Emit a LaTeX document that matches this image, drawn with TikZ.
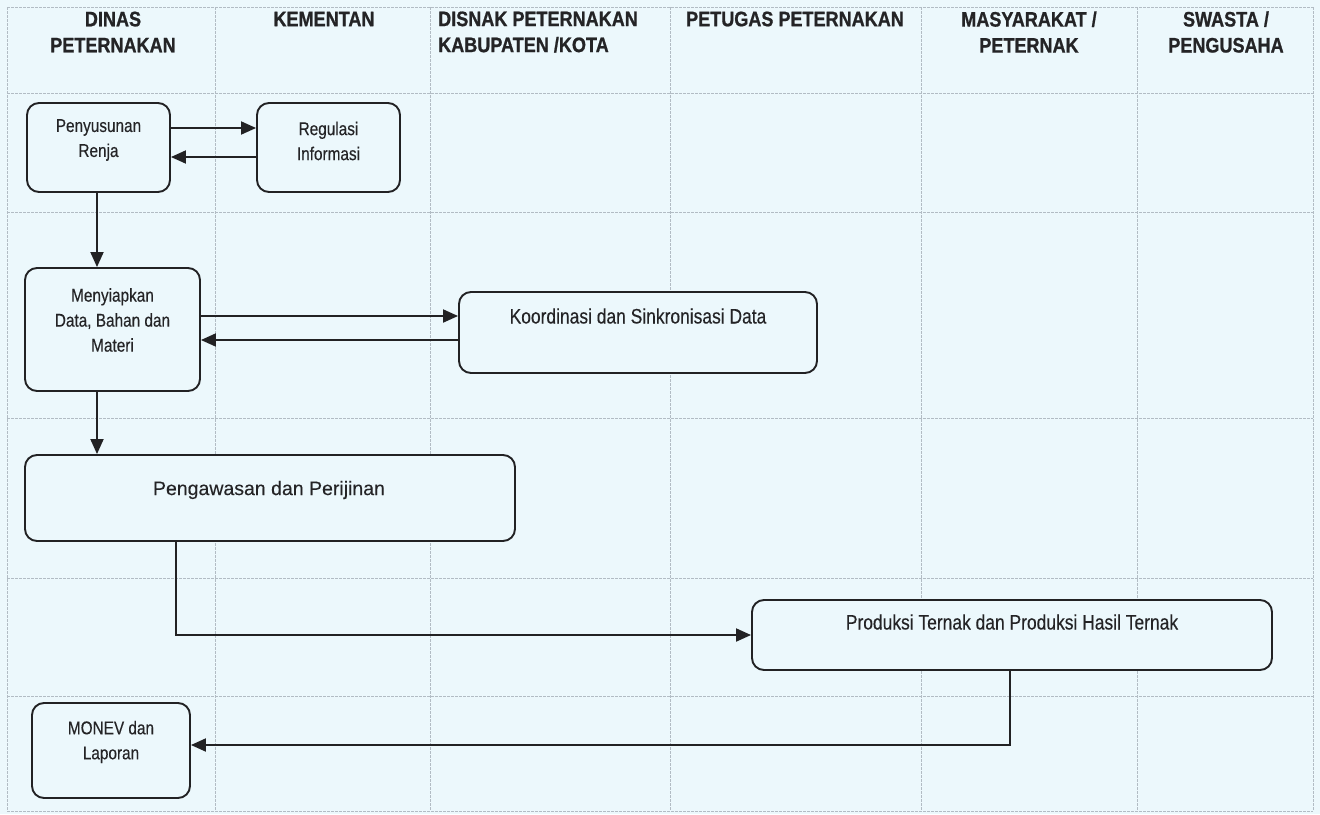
\documentclass[tikz,border=0pt]{standalone}
\usepackage{fontspec}
\setmainfont{Liberation Sans}[FakeBold=0.25]
\newfontfamily\narrowfont[FakeStretch=0.83,FakeBold=0.3]{Liberation Sans}
\newfontfamily\hdrfont[FakeStretch=0.86,FakeBold=0.9]{Liberation Sans Bold}
\usetikzlibrary{arrows.meta}
\definecolor{bgc}{RGB}{236,248,252}
\definecolor{gridc}{RGB}{178,188,196}
\definecolor{boxc}{RGB}{34,34,36}
\definecolor{txtc}{RGB}{36,36,38}
\tikzset{
  gridline/.style={draw=gridc, line width=0.7pt, dash pattern=on 3pt off 1pt},
  box/.style={draw=boxc, line width=1.9pt, rounded corners=12pt, fill=bgc, inner sep=0pt},
  conn/.style={draw=boxc, line width=1.9pt, -{Triangle[length=15pt,width=13pt]}},
  hdr/.style={text=txtc, align=center, inner sep=0pt, font=\hdrfont\fontsize{21}{26}\selectfont},
  smalltxt/.style={text=txtc, align=center, inner sep=0pt, font=\narrowfont\fontsize{18.5}{25}\selectfont},
  midtxt/.style={text=txtc, align=center, inner sep=0pt, font=\narrowfont\fontsize{21}{25}\selectfont},
  bigtxt/.style={text=txtc, align=center, inner sep=0pt, font=\fontsize{19.5}{25}\selectfont}
}
\begin{document}
\begin{tikzpicture}[x=1pt,y=-1pt]
\useasboundingbox (0,0) rectangle (1320,814);
\fill[bgc] (0,0) rectangle (1320,814);
% grid
\foreach \gx in {7,215,430,670,921,1137,1313} {\draw[gridline] (\gx,7) -- (\gx,811);}
\foreach \gy in {7,93,212,418,578,696,811} {\draw[gridline] (7,\gy) -- (1313,\gy);}
% headers
\node[hdr] (h1) at (113,32) {DINAS\\PETERNAKAN};
\node[hdr] (h2) at (324,19) {KEMENTAN};
\node[hdr, align=left, anchor=west] (h3) at (438,32) {DISNAK PETERNAKAN\\KABUPATEN /KOTA};
\node[hdr] (h4) at (795,19) {PETUGAS PETERNAKAN};
\node[hdr] (h5) at (1029,32) {MASYARAKAT /\\PETERNAK};
\node[hdr] (h6) at (1226,32) {SWASTA /\\PENGUSAHA};
% boxes
\node[box, minimum width=143pt, minimum height=89pt] (A) at (98.5,147.5) {};
\node[box, minimum width=143pt, minimum height=89pt] (B) at (328.5,147.5) {};
\node[box, minimum width=175pt, minimum height=123pt] (C) at (112.5,329.5) {};
\node[box, minimum width=358pt, minimum height=81pt] (D) at (638,332.5) {};
\node[box, minimum width=490pt, minimum height=86pt] (E) at (270,498) {};
\node[box, minimum width=520pt, minimum height=70pt] (F) at (1012,635) {};
\node[box, minimum width=158pt, minimum height=95pt] (G) at (111,750.5) {};
% texts
\node[smalltxt] (tA) at (98.5,140) {Penyusunan\\Renja};
\node[smalltxt] (tB) at (328.5,141) {Regulasi\\Informasi};
\node[smalltxt] (tC) at (112.5,320) {Menyiapkan\\Data, Bahan dan\\Materi};
\node[midtxt] (tD) at (638,316) {Koordinasi dan Sinkronisasi Data};
\node[bigtxt] (tE) at (269,490) {Pengawasan dan Perijinan};
\node[midtxt] (tF) at (1012,622) {Produksi Ternak dan Produksi Hasil Ternak};
\node[smalltxt] (tG) at (111,742) {MONEV dan\\Laporan};
% connector helpers
\coordinate (ab) at (0,128);
\coordinate (ba) at (0,157);
\coordinate (ac) at (97,0);
\coordinate (cd) at (0,316);
\coordinate (dc) at (0,340);
\coordinate (ef) at (176,0);
\coordinate (fg) at (1010,745);
% connectors
\draw[conn] (A.east |- ab) -- (B.west |- ab);
\draw[conn] (B.west |- ba) -- (A.east |- ba);
\draw[conn] (A.south -| ac) -- (C.north -| ac);
\draw[conn] (C.east |- cd) -- (D.west |- cd);
\draw[conn] (D.west |- dc) -- (C.east |- dc);
\draw[conn] (C.south -| ac) -- (E.north -| ac);
\draw[conn] (E.south -| ef) |- (F.west);
\draw[conn] (F.south -| fg) |- (G.east |- fg);
\end{tikzpicture}
\end{document}
